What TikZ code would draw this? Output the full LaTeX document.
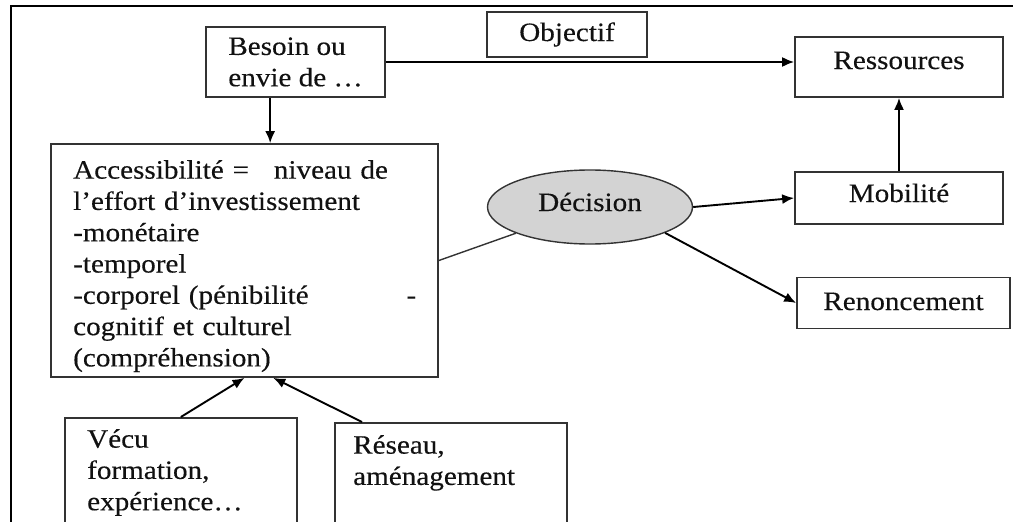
\documentclass[tikz,border=0pt]{standalone}
\usepackage{fontspec}
\setmainfont{Liberation Serif}[FakeStretch=1.1,FakeBold=0.3]
\usetikzlibrary{arrows.meta,calc,shapes.geometric}
\definecolor{boxc}{HTML}{333333}
\definecolor{decfill}{HTML}{D3D3D3}
\definecolor{txt}{HTML}{111111}
\newcommand\diafont{\fontsize{26.5pt}{31.3pt}\selectfont}
\begin{document}
\begin{tikzpicture}[x=1pt,y=-1pt,
  box/.style={draw=boxc, line width=1.7pt, rectangle, inner sep=0pt, text=txt, font=\diafont},
  txtnode/.style={inner sep=0pt, align=left, text=txt, font=\diafont},
  arr/.style={draw=black, line width=1.9pt, -{Latex[length=12pt,width=10pt]}},
  plain/.style={draw=boxc, line width=1.4pt},
]
\useasboundingbox (0,0) rectangle (1013,522);
\draw[line width=2.2pt] (1016,6) -- (11,6) -- (11,525);

\node[box, minimum width=179pt, minimum height=70pt, align=left] (bes) at (295.5,62) {Besoin ou\\envie de …};
\node[box, minimum width=160pt, minimum height=45pt] (obj) at (567,34.5) {Objectif};
\node[box, text height=18pt, text depth=14pt, minimum width=208pt, minimum height=60pt] (res) at (899,67) {Ressources};
\node[box, text height=18pt, text depth=10pt, minimum width=208pt, minimum height=52pt] (mob) at (899,198) {Mobilité};
\node[box, text height=18pt, text depth=4pt, minimum width=213pt, minimum height=51pt] (ren) at (903.5,303) {Renoncement};
\node[ellipse, draw=boxc, fill=decfill, line width=1.4pt, minimum width=205pt, minimum height=74pt, inner sep=0pt, text height=18pt, text depth=10pt, text=txt, font=\diafont] (dec) at (590,207) {Décision};

\node[box, minimum width=387pt, minimum height=233pt] (acc) at (244.5,260.5) {};
\node[txtnode, anchor=north west, text width=343pt] (acct) at (73,160) {Accessibilité =\hspace{16pt} niveau de\\l’effort d’investissement\\-monétaire\\-temporel\\-corporel (pénibilité\hfill -\\cognitif et culturel\\(compréhension)};

\node[box, anchor=north west, minimum width=232pt, minimum height=120pt] (vec) at (64,417) {};
\node[txtnode, anchor=north west] (vect) at (87,429) {Vécu\\formation,\\expérience…};
\node[box, anchor=north west, minimum width=232pt, minimum height=115pt] (rese) at (334,422) {};
\node[txtnode, anchor=north west] (reset) at (353,435) {Réseau,\\aménagement};

\coordinate (b1) at ($(bes.south west)!0.36!(bes.south east)$);
\coordinate (r1) at ($(rese.north west)!0.12!(rese.north east)$);
\coordinate (a2) at ($(acc.south west)!0.574!(acc.south east)$);

\draw[arr] (bes.east) -- (bes.east -| res.west);
\draw[arr] (b1) -- (b1 |- acc.north);
\draw[arr] (mob.north) -- (mob.north |- res.south);
\draw[plain] (acc.east) -- (dec);
\draw[arr] (dec.east) -- (mob.west);
\draw[arr] (dec.-19) -- (ren.west);
\draw[arr] (vec.north) -- (acc.south);
\draw[arr] (r1) -- (a2);
\end{tikzpicture}
\end{document}
